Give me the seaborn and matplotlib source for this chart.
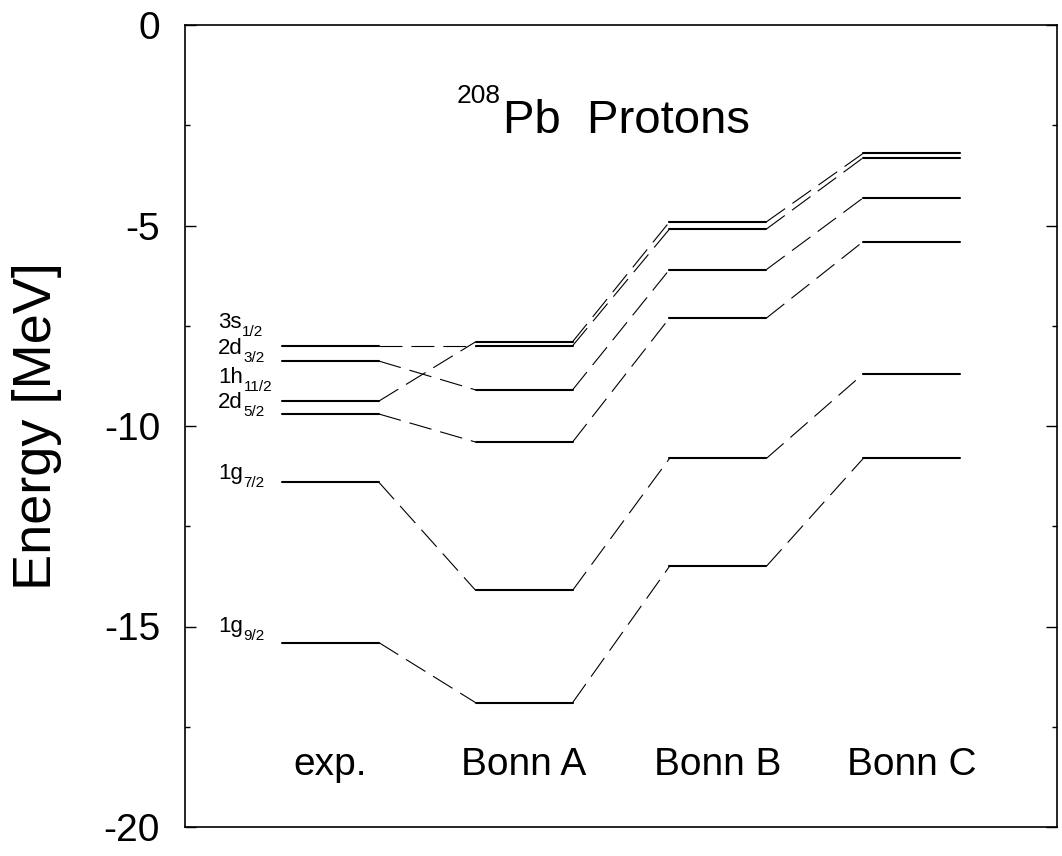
import numpy as np
import pandas as pd
import seaborn as sns
import matplotlib
matplotlib.use('Agg')
import matplotlib.pyplot as plt

# single particle levels, 208Pb protons [MeV]
states = ['3s', '2d', '1h', '2d', '1g', '1g']
j_labels = ['1/2', '3/2', '11/2', '5/2', '7/2', '9/2']
models = ['exp.', 'Bonn A', 'Bonn B', 'Bonn C']
e_exp = [-8.00, -8.38, -9.38, -9.70, -11.40, -15.40]
e_bonn_a = [-8.00, -9.10, -7.90, -10.40, -14.10, -16.90]
e_bonn_b = [-5.09, -6.10, -4.91, -7.31, -10.81, -13.50]
e_bonn_c = [-3.31, -4.31, -3.20, -5.40, -8.70, -10.81]

# where the level names sit (baseline, MeV)
label_y = [-7.56, -8.20, -8.93, -9.55, -11.32, -15.14]

sns.set_style('ticks')
plt.rcParams['font.family'] = ['Liberation Sans', 'DejaVu Sans']
plt.rcParams['axes.unicode_minus'] = False
plt.rcParams['lines.scale_dashes'] = False
plt.rcParams['text.color'] = 'black'
plt.rcParams['axes.labelcolor'] = 'black'
plt.rcParams['ytick.color'] = 'black'
plt.rcParams['xtick.color'] = 'black'

energies = [e_exp, e_bonn_a, e_bonn_b, e_bonn_c]

flat_rows = []
conn_rows = []
for k, e_model in enumerate(energies):
    for i, e in enumerate(e_model):
        unit = '{}{}-{}'.format(states[i], j_labels[i], k)
        flat_rows.append((unit, 2 * k + 1, e))
        flat_rows.append((unit, 2 * k + 2, e))
        if k < len(energies) - 1:
            cunit = 'c' + unit
            conn_rows.append((cunit, 2 * k + 2, e))
            conn_rows.append((cunit, 2 * k + 3, energies[k + 1][i]))

flats = pd.DataFrame(flat_rows, columns=['unit', 'x', 'E'])
conns = pd.DataFrame(conn_rows, columns=['unit', 'x', 'E'])

fig = plt.figure(figsize=(10.62, 8.56), dpi=100)
ax = fig.add_axes([185 / 1062, 1 - 827 / 856, 872 / 1062, 802 / 856])

sns.lineplot(data=flats, x='x', y='E', units='unit', estimator=None,
             color='black', lw=1.5, ax=ax)
sns.lineplot(data=conns, x='x', y='E', units='unit', estimator=None,
             color='black', lw=0.8, linestyle=(0, (16.5, 6.5)), ax=ax)

ax.set_xlim(0, 9)
ax.set_ylim(-20, 0)
ax.set_xticks([])
ax.set_yticks(np.arange(-20, 1, 5))
ax.set_yticks(np.arange(-17.5, 0, 5), minor=True)
ax.set_yticklabels([str(v) for v in range(-20, 1, 5)])
ax.tick_params(axis='y', which='both', direction='in', left=True, right=True,
               width=1.0, labelsize=28, pad=18, colors='black')
ax.tick_params(axis='y', which='major', length=8)
ax.tick_params(axis='y', which='minor', length=3.6)
for sp in ax.spines.values():
    sp.set_visible(True)
    sp.set_color('black')
    sp.set_linewidth(1.2)

ax.set_xlabel('')
ax.set_ylabel('Energy [MeV]', fontsize=39)
ax.yaxis.set_label_coords(-0.141, 0.5)

# level names with a lowered subscript
for i in range(len(states)):
    t = ax.text(0.34, label_y[i], states[i], fontsize=16, ha='left', va='baseline')
    ax.annotate(j_labels[i], xy=(1, 0), xycoords=t, xytext=(0.5, -4.5),
                textcoords='offset points', fontsize=11, ha='left', va='bottom')

for k, m in enumerate(models):
    ax.text(2 * k + 1.5, -18.45, m, fontsize=28, ha='center', va='center')

ax.text(3.28, -2.7, 'Pb  Protons', fontsize=34, ha='left', va='baseline')
ax.text(3.26, -1.95, '208', fontsize=19, ha='right', va='baseline')

fig.savefig('out.png', dpi=100)
